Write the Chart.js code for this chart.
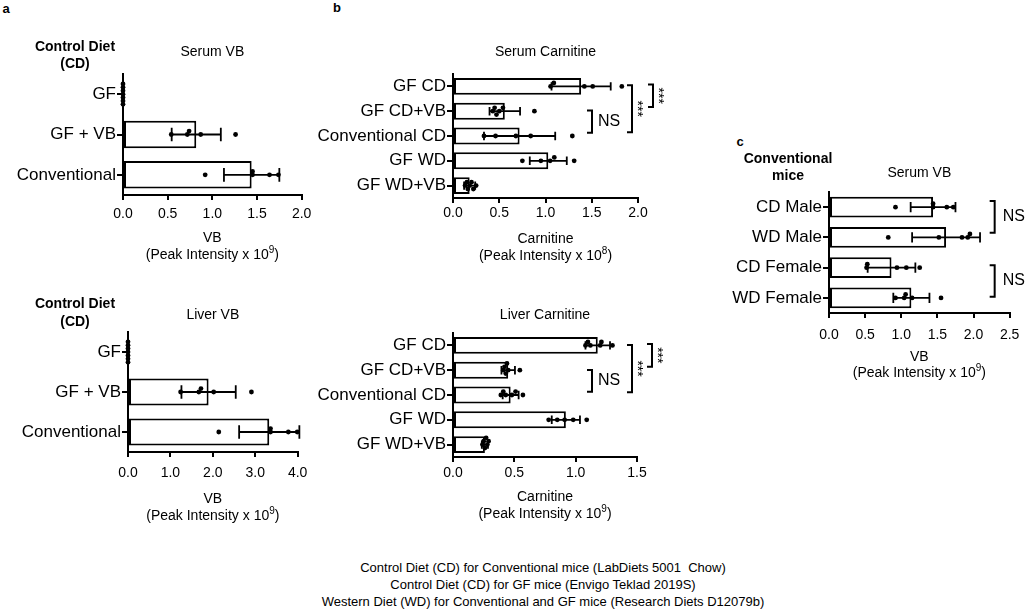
<!DOCTYPE html>
<html><head><meta charset="utf-8">
<script src="https://cdn.jsdelivr.net/npm/chart.js@4.4.1/dist/chart.umd.min.js"></script>
<style>
html,body{margin:0;padding:0;background:#fff;width:1028px;height:611px;overflow:hidden;position:relative;font-family:'Liberation Sans',Arial,Helvetica,sans-serif;color:#000}
canvas{position:absolute}
.t{position:absolute;white-space:nowrap;transform:translate(-50%,-50%);text-align:center}
.bold{font-weight:bold}
</style></head><body>
<canvas id="cA1"></canvas>
<canvas id="cA2"></canvas>
<canvas id="cB1"></canvas>
<canvas id="cB2"></canvas>
<canvas id="cC"></canvas>
<div class="t bold" style="left:6px;top:8px;font-size:13px">a</div>
<div class="t bold" style="left:337px;top:7px;font-size:13px">b</div>
<div class="t bold" style="left:740px;top:141px;font-size:13px">c</div>
<div class="t bold" style="left:75px;top:54.5px;font-size:14px;line-height:17px">Control Diet<br>(CD)</div>
<div class="t bold" style="left:75px;top:312px;font-size:14px;line-height:18px">Control Diet<br>(CD)</div>
<div class="t bold" style="left:788px;top:166.5px;font-size:14px;line-height:17px">Conventional<br>mice</div>
<div class="t" style="left:543px;top:584px;font-size:13px;line-height:17px">Control Diet (CD) for Conventional mice (LabDiets 5001&nbsp; Chow)<br>Control Diet (CD) for GF mice (Envigo Teklad 2019S)<br>Western Diet (WD) for Conventional and GF mice (Research Diets D12079b)</div>
<script>
// ---------------- DATA ----------------
const catsA = ['GF', 'GF + VB', 'Conventional'];
const serumVBMean = [0, 0.82, 1.44];
const serumVBSd = [0, 0.275, 0.31];
const serumVBDots = [[0,0,0,0,0,0,0],[0.54,0.72,0.74,0.87,1.26],[0.92,1.45,1.45,1.64,1.74]];
const serumVBTicks = [0, 0.5, 1.0, 1.5, 2.0];

const liverVBMean = [0, 1.90, 3.33];
const liverVBSd = [0, 0.64, 0.71];
const liverVBDots = [[0,0,0,0,0,0,0],[1.24,1.67,1.72,2.02,2.91],[2.14,3.36,3.36,3.78,3.99]];
const liverVBTicks = [0, 1.0, 2.0, 3.0, 4.0];

const catsB = ['GF CD', 'GF CD+VB', 'Conventional CD', 'GF WD', 'GF WD+VB'];
const serumCarnMean = [1.385, 0.56, 0.72, 1.03, 0.18];
const serumCarnSd = [0.32, 0.165, 0.385, 0.20, 0.06];
const serumCarnDots = [[1.055,1.09,1.42,1.51,1.825],[0.43,0.45,0.47,0.50,0.54,0.88],[0.335,0.46,0.68,0.84,1.29],[0.75,0.95,1.05,1.095,1.31],[0.13,0.15,0.16,0.18,0.20,0.22,0.25]];
const serumCarnTicks = [0, 0.5, 1.0, 1.5, 2.0];

const liverCarnMean = [1.18, 0.45, 0.47, 0.92, 0.26];
const liverCarnSd = [0.10, 0.055, 0.065, 0.115, 0.025];
const liverCarnDots = [[1.08,1.10,1.12,1.20,1.21,1.30],[0.41,0.42,0.43,0.44,0.45,0.545],[0.39,0.41,0.43,0.48,0.51,0.57],[0.78,0.85,0.91,0.98,1.09],[0.24,0.25,0.26,0.27,0.28,0.29]];
const liverCarnTicks = [0, 0.5, 1.0, 1.5];

const catsC = ['CD Male', 'WD Male', 'CD Female', 'WD Female'];
const convVBMean = [1.44, 1.62, 0.865, 1.14];
const convVBSd = [0.31, 0.47, 0.33, 0.25];
const convVBDots = [[0.92,1.44,1.44,1.63,1.72],[0.82,1.52,1.84,1.92,1.95],[0.52,0.53,0.94,1.07,1.255],[0.92,1.04,1.06,1.15,1.55]];
const convVBTicks = [0, 0.5, 1.0, 1.5, 2.0, 2.5];

// ---------------- RENDERING ----------------
const FONT = "'Liberation Sans', Arial, Helvetica, sans-serif";
const LH = 14 * 1.2;
const LW = 2;
Chart.defaults.font.family = FONT;
Chart.defaults.color = '#000';

const bracketPlugin = {
  id: 'brackets',
  afterDatasetsDraw(chart, args, opts) {
    const items = opts.items || [];
    const ys = chart.scales.yn, ca = chart.chartArea, ctx = chart.ctx;
    ctx.save();
    ctx.strokeStyle = '#000'; ctx.fillStyle = '#000'; ctx.lineWidth = LW;
    items.forEach(b => {
      const x = ca.right + b.dx;
      const y1 = ys.getPixelForValue(b.from + b.fromAdj);
      const y2 = ys.getPixelForValue(b.to + b.toAdj);
      ctx.beginPath();
      ctx.moveTo(x - 5, y1); ctx.lineTo(x, y1); ctx.lineTo(x, y2); ctx.lineTo(x - 5, y2);
      ctx.stroke();
      const ym = (y1 + y2) / 2;
      if (b.rotate) {
        ctx.save();
        ctx.translate(x + b.tx, ym);
        ctx.rotate(Math.PI / 2);
        ctx.font = '14px ' + FONT; ctx.textAlign = 'center'; ctx.textBaseline = 'middle';
        ctx.fillText(b.label, 0, 0);
        ctx.restore();
      } else {
        ctx.font = '16px ' + FONT; ctx.textAlign = 'left'; ctx.textBaseline = 'middle';
        ctx.fillText(b.label, x + b.tx, ym);
      }
    });
    ctx.restore();
  }
};

// x-axis title with a real superscript exponent
const axisTitlePlugin = {
  id: 'axisTitle',
  afterDraw(chart, args, opts) {
    const ctx = chart.ctx, ca = chart.chartArea, xs = chart.scales.x;
    const cx = (ca.left + ca.right) / 2;
    ctx.save();
    ctx.fillStyle = '#000'; ctx.textBaseline = 'middle'; ctx.textAlign = 'left';
    const big = '14px ' + FONT, small = '10px ' + FONT;
    ctx.font = big;
    const w1 = ctx.measureText(opts.line1).width;
    ctx.fillText(opts.line1, cx - w1 / 2, xs.bottom - LH * 1.5);
    const wa = ctx.measureText(opts.pre).width, wb = ctx.measureText(opts.post).width;
    ctx.font = small;
    const ws = ctx.measureText(opts.sup).width;
    let x = cx - (wa + ws + wb) / 2;
    const y = xs.bottom - LH / 2;
    ctx.font = big; ctx.fillText(opts.pre, x, y); x += wa;
    ctx.font = small; ctx.fillText(opts.sup, x, y - 5); x += ws;
    ctx.font = big; ctx.fillText(opts.post, x, y);
    ctx.restore();
  }
};

function swarm(groups, pxPerUnit, pxPerCat) {
  const ROW = 3.4, DOT = 4.6;
  const seq = [0, -1, 1, -2, 2, -3, 3, -4, 4, -5, 5];
  const out = [];
  groups.forEach((vals, gi) => {
    const placed = [];
    vals.slice().sort((a, b) => a - b).forEach(v => {
      const r = seq.find(r => !placed.some(p => p.r === r && Math.abs(p.v - v) * pxPerUnit < DOT));
      placed.push({ v, r });
      out.push({ x: v, y: gi + r * ROW / pxPerCat });
    });
  });
  return out;
}

function errorSegments(means, sds, cap) {
  const pts = [];
  means.forEach((m, i) => {
    const s = sds[i];
    if (!s) return;
    const lo = m - s, hi = m + s;
    pts.push({x: lo, y: i}, {x: hi, y: i}, {x: null, y: null},
             {x: lo, y: i - cap}, {x: lo, y: i + cap}, {x: null, y: null},
             {x: hi, y: i - cap}, {x: hi, y: i + cap}, {x: null, y: null});
  });
  return pts;
}

function makeChart(id, s) {
  const cv = document.getElementById(id);
  cv.width = s.box.w; cv.height = s.box.h;
  cv.style.left = s.box.x + 'px'; cv.style.top = s.box.y + 'px';
  const TICK = 5;
  const padTop = s.titleY - LH / 2 - s.box.y;
  const padBottom = s.area.T - s.box.y - LH - padTop;
  const Hx = s.xTitleY + LH / 2 - s.area.B;
  const Wy = s.area.L - s.box.x;
  const tickPad = s.tickY - LH / 2 - TICK - s.area.B;
  const n = s.cats.length;
  const xMax = s.ticks[s.ticks.length - 1];
  const pxPerUnit = (s.area.R - s.area.L) / xMax;
  const pxPerCat = (s.area.B - s.area.T) / n;
  const axisGrid = {display: true, drawOnChartArea: false, drawTicks: true, color: '#000', lineWidth: LW};
  new Chart(cv, {
    type: 'bar',
    data: {
      labels: s.cats,
      datasets: [
        {type: 'scatter', data: swarm(s.dots, pxPerUnit, pxPerCat), xAxisID: 'x', yAxisID: 'yn',
         backgroundColor: '#000', borderColor: '#000', pointRadius: 2.4, pointHoverRadius: 2.4,
         pointBorderWidth: 0, showLine: false, clip: false, order: 0},
        {type: 'line', data: errorSegments(s.means, s.sds, 0.17), xAxisID: 'x', yAxisID: 'yn',
         borderColor: '#000', borderWidth: 1.8, pointRadius: 0, pointHoverRadius: 0,
         spanGaps: false, fill: false, clip: false, order: 1},
        {type: 'bar', data: s.means, xAxisID: 'x', yAxisID: 'y', grouped: false,
         backgroundColor: '#fff', borderColor: '#000', borderWidth: LW, borderSkipped: false,
         barPercentage: 0.68, categoryPercentage: 1, order: 2}
      ]
    },
    options: {
      indexAxis: 'y',
      responsive: false, animation: false, devicePixelRatio: 1,
      events: [],
      layout: {padding: {left: 0, top: 0, right: s.box.x + s.box.w - s.area.R,
                         bottom: s.box.y + s.box.h - s.area.B - Hx}},
      plugins: {
        legend: {display: false}, tooltip: {enabled: false},
        title: {display: true, text: s.title, fullSize: false, color: '#000',
                font: {size: 14, weight: 'normal'}, padding: {top: padTop, bottom: padBottom}},
        brackets: {items: s.brackets || []},
        axisTitle: s.xTitle
      },
      scales: {
        x: {type: 'linear', position: 'bottom', min: 0, max: xMax, offset: false,
            afterBuildTicks: sc => { sc.ticks = s.ticks.map(v => ({value: v})); },
            ticks: {callback: v => Number(v).toFixed(1), font: {size: 14}, color: '#000',
                    padding: tickPad, autoSkip: false, maxRotation: 0},
            grid: Object.assign({}, axisGrid, {tickLength: TICK}),
            border: {display: true, color: '#000', width: LW},
            title: {display: false},
            afterFit: sc => { sc.height = Hx; }},
        y: {type: 'category', position: 'left', offset: true,
            ticks: {font: {size: 17}, color: '#000', padding: 1, autoSkip: false},
            grid: Object.assign({}, axisGrid, {tickLength: 6, offset: false}),
            border: {display: true, color: '#000', width: LW},
            afterFit: sc => { sc.width = Wy; }},
        yn: {type: 'linear', axis: 'y', position: 'left', display: false, offset: false,
             grid: {offset: false}, bounds: 'data',
             min: -0.5, max: n - 0.5, reverse: true}
      }
    },
    plugins: [bracketPlugin, axisTitlePlugin]
  });
}

const bracketsB = [
  {from: 1, to: 2, fromAdj: -0.03, toAdj: -0.13, dx: -46, tx: 6, label: 'NS', rotate: false},
  {from: 0, to: 2, fromAdj: -0.05, toAdj: -0.15, dx: -6, tx: 5, label: '***', rotate: true},
  {from: 0, to: 1, fromAdj: -0.08, toAdj: -0.17, dx: 15, tx: 5, label: '***', rotate: true}
];
const bracketsB2 = [
  {from: 1, to: 2, fromAdj: -0.01, toAdj: -0.13, dx: -45, tx: 6, label: 'NS', rotate: false},
  {from: 0, to: 2, fromAdj: -0.02, toAdj: -0.11, dx: -5, tx: 5, label: '***', rotate: true},
  {from: 0, to: 1, fromAdj: -0.06, toAdj: -0.14, dx: 15, tx: 5, label: '***', rotate: true}
];
const bracketsC = [
  {from: 0, to: 1, fromAdj: -0.2, toAdj: -0.15, dx: -15, tx: 8, label: 'NS', rotate: false},
  {from: 2, to: 3, fromAdj: -0.08, toAdj: -0.04, dx: -15, tx: 8, label: 'NS', rotate: false}
];

const vbTitle = {line1: 'VB', pre: '(Peak Intensity x 10', sup: '9', post: ')'};
const carnTitle8 = {line1: 'Carnitine', pre: '(Peak Intensity x 10', sup: '8', post: ')'};
const carnTitle9 = {line1: 'Carnitine', pre: '(Peak Intensity x 10', sup: '9', post: ')'};

makeChart('cA1', {box: {x: 0, y: 30, w: 317, h: 240}, area: {L: 123, T: 74, R: 302, B: 195},
  titleY: 52, tickY: 214, xTitleY: 255, title: 'Serum VB', xTitle: vbTitle,
  cats: catsA, means: serumVBMean, sds: serumVBSd, dots: serumVBDots, ticks: serumVBTicks});
makeChart('cA2', {box: {x: 0, y: 290, w: 315, h: 240}, area: {L: 128, T: 332, R: 300, B: 452},
  titleY: 315, tickY: 473, xTitleY: 516, title: 'Liver VB', xTitle: vbTitle,
  cats: catsA, means: liverVBMean, sds: liverVBSd, dots: liverVBDots, ticks: liverVBTicks});
makeChart('cB1', {box: {x: 300, y: 30, w: 380, h: 240}, area: {L: 453, T: 74, R: 638, B: 198},
  titleY: 52, tickY: 213.5, xTitleY: 256, title: 'Serum Carnitine', xTitle: carnTitle8,
  cats: catsB, means: serumCarnMean, sds: serumCarnSd, dots: serumCarnDots, ticks: serumCarnTicks, brackets: bracketsB});
makeChart('cB2', {box: {x: 300, y: 290, w: 380, h: 240}, area: {L: 453, T: 333, R: 637, B: 457},
  titleY: 315, tickY: 473.5, xTitleY: 514, title: 'Liver Carnitine', xTitle: carnTitle9,
  cats: catsB, means: liverCarnMean, sds: liverCarnSd, dots: liverCarnDots, ticks: liverCarnTicks, brackets: bracketsB2});
makeChart('cC', {box: {x: 690, y: 150, w: 338, h: 240}, area: {L: 829, T: 192, R: 1012, B: 313},
  titleY: 173.5, tickY: 335, xTitleY: 373.5, title: 'Serum VB', xTitle: vbTitle,
  cats: catsC, means: convVBMean, sds: convVBSd, dots: convVBDots, ticks: convVBTicks, brackets: bracketsC});
</script>
</body></html>
